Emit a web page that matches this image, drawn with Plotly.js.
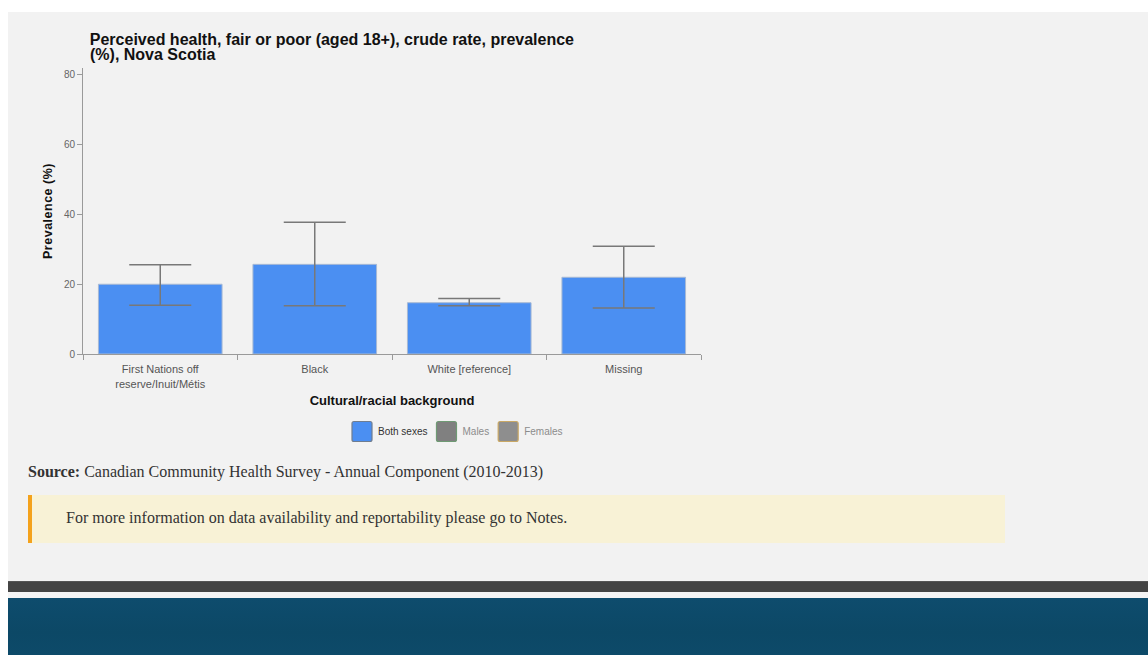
<!DOCTYPE html>
<html>
<head>
<meta charset="utf-8">
<script src="https://cdn.plot.ly/plotly-3.0.1.min.js"></script>
<style>
  html, body { margin: 0; padding: 0; background: #ffffff; width: 1148px; height: 655px; overflow: hidden; position: relative; }
  #panel { position: absolute; left: 8px; top: 12px; width: 1140px; height: 569px; background: #f2f2f2; }
  #chart { position: absolute; left: 0; top: 0; width: 760px; height: 450px; }
  #chart .ytitle { letter-spacing: 0.5px; }
  #source { position: absolute; left: 28px; top: 463px; font-family: "Liberation Serif", "Times New Roman", serif; font-size: 16px; color: #333; white-space: nowrap; }
  #note { position: absolute; left: 28px; top: 495px; width: 973px; height: 48px; background: #f8f2d6; border-left: 4px solid #f4a21c; }
  #note span { position: absolute; left: 34px; top: 14px; font-family: "Liberation Serif", "Times New Roman", serif; font-size: 16px; color: #333; white-space: nowrap; }
  #darkbar { position: absolute; left: 8px; top: 581px; width: 1140px; height: 11px; background: #444444; border-top: 1px solid #555; box-sizing: border-box; }
  #thin { position: absolute; left: 8px; top: 592px; width: 1140px; height: 6px; background: #f4f4f4; }
  #footer { position: absolute; left: 8px; top: 598px; width: 1140px; height: 57px; background: linear-gradient(180deg, #0e4c6d 0%, #0c4866 60%, #0d4a69 100%); }
</style>
</head>
<body>
<div id="panel"></div>
<div id="chart"></div>
<div id="source"><b>Source:</b> Canadian Community Health Survey - Annual Component (2010-2013)</div>
<div id="note"><span>For more information on data availability and reportability please go to Notes.</span></div>
<div id="darkbar"></div>
<div id="thin"></div>
<div id="footer"></div>
<script>
// Data
const categories = ["First Nations off<br>reserve/Inuit/Métis", "Black", "White [reference]", "Missing"];
const bothSexes = [20.0, 25.7, 14.7, 22.0];
const upperCI = [25.6, 37.8, 15.9, 30.9];
const lowerCI = [14.0, 13.8, 13.8, 13.2];
const males = [null, null, null, null];
const females = [null, null, null, null];
const yTicks = [0, 20, 40, 60, 80];
const titleLine1 = "Perceived health, fair or poor (aged 18+), crude rate, prevalence";
const titleLine2 = "(%), Nova Scotia";

const errPlus = bothSexes.map((v, i) => +(upperCI[i] - v).toFixed(2));
const errMinus = bothSexes.map((v, i) => +(v - lowerCI[i]).toFixed(2));

const traces = [
  {
    type: "bar", name: "<span style='color:#333'>Both sexes</span>", x: categories, y: bothSexes,
    marker: { color: "#4b8ff2", line: { color: "#a7b9d4", width: 1 } },
    error_y: { type: "data", symmetric: false, array: errPlus, arrayminus: errMinus,
               color: "#787878", thickness: 1.5, width: 31 },
    hoverinfo: "y"
  },
  {
    type: "bar", name: "<span style='color:#8c8c8c'>Males</span>", x: categories, y: males,
    marker: { color: "#808080", line: { color: "#6f9a74", width: 1.2 } }
  },
  {
    type: "bar", name: "<span style='color:#8c8c8c'>Females</span>", x: categories, y: females,
    marker: { color: "#8e8e8e", line: { color: "#c9a865", width: 1.2 } }
  }
];

const baseFont = "Liberation Sans, Arial, sans-serif";

const layout = {
  width: 760, height: 450,
  paper_bgcolor: "rgba(0,0,0,0)", plot_bgcolor: "rgba(0,0,0,0)",
  margin: { l: 83, r: 59, t: 68, b: 96 },
  barmode: "overlay", bargap: 0.2,
  showlegend: true,
  title: {
    text: titleLine1,
    font: { family: baseFont, size: 16, color: "#111", weight: "bold" },
    xref: "paper", x: 0.011, xanchor: "left",
    yref: "container", y: 1 - 39.5 / 450, yanchor: "middle"
  },
  annotations: [{
    text: titleLine2, showarrow: false,
    font: { family: baseFont, size: 16, color: "#111", weight: "bold" },
    xref: "paper", x: 5 / 618, xanchor: "left",
    yref: "paper", y: 1 + 13.5 / 286, yanchor: "middle"
  }],
  xaxis: {
    type: "category",
    showline: true, linecolor: "#9a9a9a", linewidth: 1,
    ticks: "outside", tickson: "boundaries", ticklen: 5, tickcolor: "#9a9a9a",
    ticklabelstandoff: 5,
    tickfont: { family: baseFont, size: 11, color: "#555" }, showgrid: false, zeroline: false,
    title: { text: "<b>Cultural/racial background</b>", font: { family: baseFont, size: 13, color: "#111" }, standoff: 7 }
  },
  yaxis: {
    range: [0, 82], tickvals: yTicks,
    showline: true, linecolor: "#9a9a9a", linewidth: 1,
    ticks: "outside", ticklen: 5, tickcolor: "#9a9a9a",
    tickfont: { family: baseFont, size: 10, color: "#666" }, showgrid: false, zeroline: false,
    title: { text: "<b>Prevalence (%)</b>", font: { family: baseFont, size: 12.5, color: "#111" }, standoff: 8 }
  },
  legend: {
    orientation: "h",
    xref: "container", x: 457 / 760, xanchor: "center",
    yref: "container", y: 1 - 417 / 450, yanchor: "top",
    font: { family: baseFont, size: 10, color: "#333" },
    bgcolor: "rgba(0,0,0,0)"
  }
};

Plotly.newPlot("chart", traces, layout, { displayModeBar: false }).then(function (gd) {
  // restyle legend swatches as rounded 20px squares and pack entries like the reference
  const rr = "M-8,-10H8A2,2 0 0 1 10,-8V8A2,2 0 0 1 8,10H-8A2,2 0 0 1 -10,8V-8A2,2 0 0 1 -8,-10Z";
  const swatchStroke = ["#6f7d90", "#6f9a74", "#c9a865"];
  const items = Array.from(gd.querySelectorAll(".legend .traces"));
  let x = 0;
  const ys = [];
  const xs = [];
  items.forEach(function (g, i) {
    const m = /translate\(\s*([-\d.]+)[ ,]+([-\d.]+)/.exec(g.getAttribute("transform") || "");
    ys.push(m ? parseFloat(m[2]) : 0);
    g.querySelectorAll(".legendpoints path").forEach(function (p) {
      p.setAttribute("d", rr);
      p.setAttribute("transform", "translate(24,0)");
      if (swatchStroke[i]) { p.style.stroke = swatchStroke[i]; p.style.strokeWidth = "1.2px"; }
    });
    const t = g.querySelector("text.legendtext");
    const tw = t ? t.getBBox().width : 40;
    xs.push(x);
    x += 35 + tw;
  });
  items.forEach(function (g, i) { g.setAttribute("transform", "translate(" + xs[i] + "," + ys[i] + ")"); });
  if (items.length) {
    const p0 = items[0].querySelector(".legendpoints path");
    const left = p0.getBoundingClientRect().left - gd.getBoundingClientRect().left;
    const d = 352 - left;
    items.forEach(function (g, i) { g.setAttribute("transform", "translate(" + (xs[i] + d) + "," + ys[i] + ")"); });
  }
});
</script>
</body>
</html>
